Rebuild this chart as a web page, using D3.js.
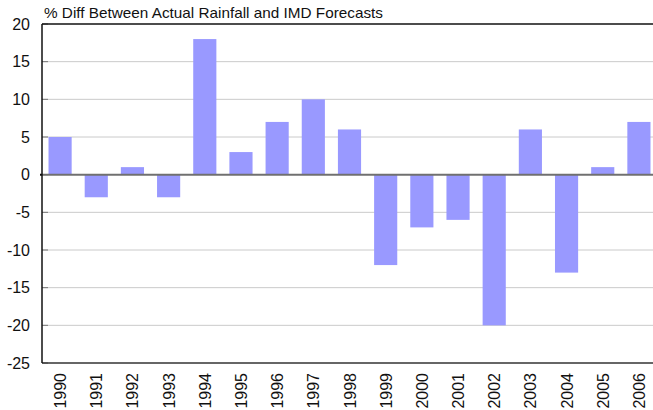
<!DOCTYPE html>
<meta charset="utf-8">
<script src="https://d3js.org/d3.v7.min.js"></script>
<style>
  body { margin: 0; background: #fff; }
  text { font-family: "Liberation Sans", Arial, sans-serif; fill: #111; }
</style>
<div id="chart"></div>
<script>
// Data
const years = ["1990","1991","1992","1993","1994","1995","1996","1997","1998",
               "1999","2000","2001","2002","2003","2004","2005","2006"];
const pctDiff = [5, -3, 1, -3, 18, 3, 7, 10, 6, -12, -7, -6, -20, 6, -13, 1, 7];
const yTicks = [20, 15, 10, 5, 0, -5, -10, -15, -20, -25];
const title = "% Diff Between Actual Rainfall and IMD Forecasts";

const W = 653, H = 410;
// plot edges (the right edge runs past the window)
const plot = {left: 42, right: 657, top: 24, bottom: 363};

const svg = d3.select("#chart").append("svg")
    .attr("width", W).attr("height", H);

const x = d3.scaleBand()
    .domain(years)
    .range([plot.left, plot.right])
    .paddingInner(0.36)
    .paddingOuter(0.18);

const y = d3.scaleLinear()
    .domain([-25, 20])
    .range([plot.bottom, plot.top]);

// gridlines
svg.append("g")
  .selectAll("line")
  .data(yTicks.filter(d => d !== 0 && d !== 20 && d !== -25))
  .join("line")
    .attr("x1", plot.left).attr("x2", plot.right)
    .attr("y1", d => y(d)).attr("y2", d => y(d))
    .attr("stroke", "#cacaca").attr("stroke-width", 1);

// small inner ticks
svg.append("g")
  .selectAll("line")
  .data(yTicks)
  .join("line")
    .attr("x1", plot.left).attr("x2", plot.left + 6)
    .attr("y1", d => y(d)).attr("y2", d => y(d))
    .attr("stroke", "#777").attr("stroke-width", 1);

// bars
svg.append("g")
  .selectAll("rect")
  .data(years.map((yr, i) => ({year: yr, v: pctDiff[i]})))
  .join("rect")
    .attr("x", d => x(d.year))
    .attr("y", d => y(Math.max(0, d.v)))
    .attr("width", x.bandwidth())
    .attr("height", d => Math.abs(y(d.v) - y(0)))
    .attr("fill", "#9999ff");

// zero line
svg.append("line")
    .attr("x1", plot.left).attr("x2", plot.right)
    .attr("y1", y(0)).attr("y2", y(0))
    .attr("stroke", "#707070").attr("stroke-width", 2);

// frame
svg.append("line")
    .attr("x1", plot.left).attr("x2", plot.right)
    .attr("y1", plot.top).attr("y2", plot.top)
    .attr("stroke", "#111").attr("stroke-width", 1.5);
svg.append("line")
    .attr("x1", plot.left).attr("x2", plot.right)
    .attr("y1", plot.bottom).attr("y2", plot.bottom)
    .attr("stroke", "#333").attr("stroke-width", 1.5);
svg.append("line")
    .attr("x1", plot.left).attr("x2", plot.left)
    .attr("y1", plot.top).attr("y2", plot.bottom)
    .attr("stroke", "#111").attr("stroke-width", 1.5);
svg.append("line")
    .attr("x1", plot.left - 2).attr("x2", plot.left)
    .attr("y1", y(0)).attr("y2", y(0))
    .attr("stroke", "#111").attr("stroke-width", 2);

// y labels
svg.append("g")
  .selectAll("text")
  .data(yTicks)
  .join("text")
    .attr("x", 30)
    .attr("y", d => y(d))
    .attr("dy", "0.36em")
    .attr("text-anchor", "end")
    .attr("font-size", 16)
    .text(d => d);

// x labels (rotated)
svg.append("g")
  .selectAll("text")
  .data(years)
  .join("text")
    .attr("transform", d => `translate(${x(d) + x.bandwidth() / 2 + 6},${plot.bottom + 10}) rotate(-90)`)
    .attr("text-anchor", "end")
    .attr("font-size", 16)
    .text(d => d);

// title, squeezed to the condensed look of the original
svg.append("text")
    .attr("x", 44).attr("y", 18)
    .attr("font-size", 15)
    .attr("textLength", 339)
    .attr("lengthAdjust", "spacingAndGlyphs")
    .text(title);
</script>
</html>
